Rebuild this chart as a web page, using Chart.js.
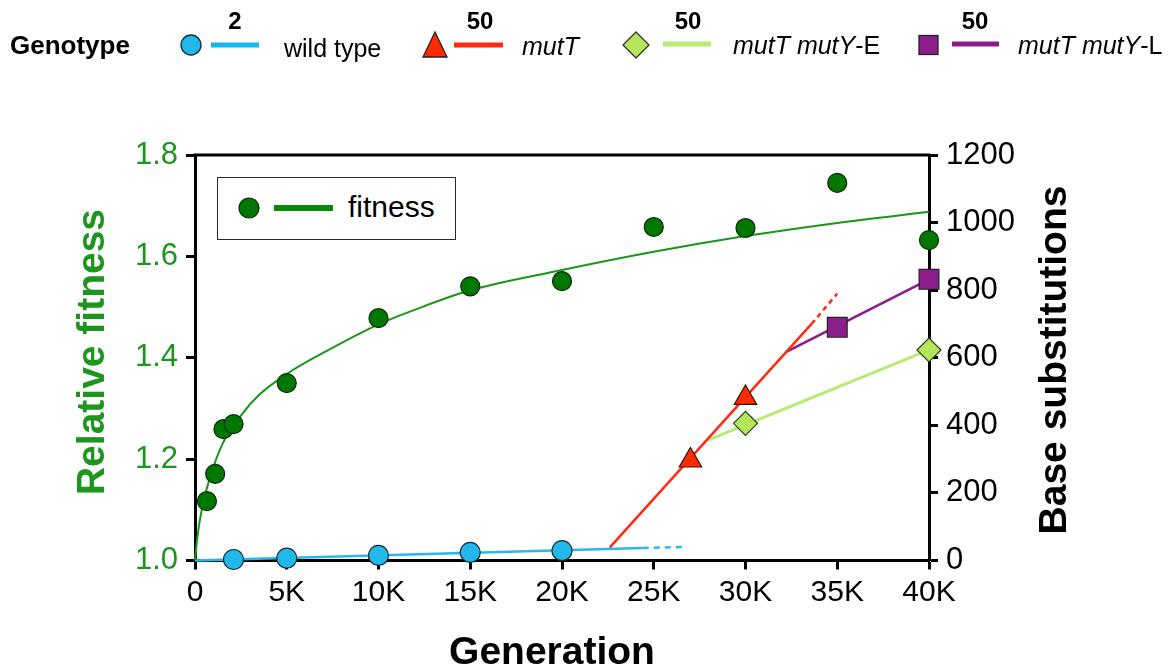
<!DOCTYPE html>
<html>
<head>
<meta charset="utf-8">
<script src="https://cdn.jsdelivr.net/npm/chart.js@4.4.0/dist/chart.umd.min.js"></script>
<style>
  body { margin: 0; background: #fff; }
  #wrap { position: relative; width: 1172px; height: 671px; font-family: "Liberation Sans", Arial, sans-serif; }
  #chart { position: absolute; left: 0; top: 0; }
  .t { position: absolute; white-space: nowrap; color: #000; line-height: 1; }
  .b { font-weight: bold; }
  .i { font-style: italic; }
  .num { font-weight: bold; font-size: 24px; transform: translateX(-50%); }
  .lab { font-size: 25px; }
  #fitbox { position: absolute; left: 217px; top: 177px; width: 237px; height: 61px; border: 1.5px solid #2a2a2a; background: #fff; }
  svg { position: absolute; left: 0; top: 0; overflow: visible; }
</style>
</head>
<body>
<div id="wrap">
  <canvas id="chart" width="1172" height="671"></canvas>

  <!-- genotype legend at the top -->
  <svg width="1172" height="80">
    <circle cx="191" cy="45" r="10" fill="#22b8ea" stroke="#1b2b33" stroke-width="1.3"/>
    <line x1="211" y1="45" x2="259" y2="45" stroke="#13b8ee" stroke-width="5"/>
    <polygon points="435,32 447,57 423,57" fill="#ff2a00" stroke="#222" stroke-width="1.3"/>
    <line x1="454" y1="45" x2="503" y2="45" stroke="#ff2a10" stroke-width="5"/>
    <polygon points="636,32 649,45 636,58 623,45" fill="#b5e65c" stroke="#333" stroke-width="1.3"/>
    <line x1="663" y1="44" x2="711" y2="44" stroke="#b8ec70" stroke-width="5"/>
    <rect x="919" y="35.5" width="19" height="19" fill="#8c1f8c" stroke="#222" stroke-width="1.3"/>
    <line x1="952" y1="44" x2="999" y2="44" stroke="#8b1a8b" stroke-width="5"/>
  </svg>
  <div class="t b" style="left:10px; top:32px; font-size:26px;">Genotype</div>
  <div class="t num" style="left:235px; top:9px;">2</div>
  <div class="t num" style="left:480px; top:9px;">50</div>
  <div class="t num" style="left:688px; top:9px;">50</div>
  <div class="t num" style="left:975px; top:9px;">50</div>
  <div class="t lab" style="left:284px; top:36px;">wild type</div>
  <div class="t lab i" style="left:522px; top:34px;">mutT</div>
  <div class="t lab" style="left:733px; top:33px;"><span class="i">mutT mutY</span>-E</div>
  <div class="t lab" style="left:1018px; top:33px;"><span class="i">mutT mutY</span>-L</div>

  <!-- fitness legend inside the plot -->
  <div id="fitbox"></div>
  <svg width="1172" height="671" style="pointer-events:none;">
    <circle cx="249" cy="208" r="10" fill="#007800" stroke="#0a2a0a" stroke-width="1.2"/>
    <line x1="274" y1="208" x2="333" y2="208" stroke="#0a8a0a" stroke-width="6"/>
  </svg>
  <div class="t" style="left:348px; top:192px; font-size:30px;">fitness</div>
</div>

<script>
// Fitness measurements (left axis)
const fitGen = [650, 1100, 1550, 2100, 5000, 10000, 15000, 20000, 25000, 30000, 35000, 40000];
const fitVal = [1.117, 1.171, 1.259, 1.269, 1.350, 1.478, 1.541, 1.551, 1.658, 1.656, 1.745, 1.632];

// Fitted fitness trajectory
const curveGen = [0, 150, 400, 800, 1500, 2500, 3500, 5000, 7000, 10000, 12000, 15000, 20000, 25000, 30000, 35000, 40000];
const curveVal = [1.0, 1.052, 1.106, 1.162, 1.230, 1.286, 1.327, 1.368, 1.410, 1.466, 1.495, 1.533, 1.573, 1.609, 1.640, 1.666, 1.688];

// Base substitutions (right axis)
const wtGen = [2100, 5000, 10000, 15000, 20000];
const wtVal = [3, 7, 15, 24, 29];
const wtLineGen = [0, 24400];
const wtLineVal = [0, 37];
const wtDashGen = [24400, 26600];
const wtDashVal = [37, 40];

const mutTGen = [27000, 30000];
const mutTVal = [296, 481];
const mutTLineGen = [22600, 33600];
const mutTLineVal = [38, 700];
const mutTDashGen = [33600, 35000];
const mutTDashVal = [700, 790];

const mutYEGen = [30000, 40000];
const mutYEVal = [406, 623];
const mutYELineGen = [27960, 40000];
const mutYELineVal = [356, 623];

const mutYLGen = [35000, 40000];
const mutYLVal = [690, 832];
const mutYLLineGen = [32250, 40000];
const mutYLLineVal = [618, 832];

// Tick labels
const xTicks = [0, 5000, 10000, 15000, 20000, 25000, 30000, 35000, 40000];
const xTickLabels = ['0', '5K', '10K', '15K', '20K', '25K', '30K', '35K', '40K'];

const GREEN_TXT = '#1c961c';
const FONT = '"Liberation Sans", Arial, sans-serif';

function pts(xs, ys) {
  return xs.map((x, i) => ({ x: x, y: ys[i] }));
}

function markers(xs, ys, style, r, fill, stroke) {
  return {
    type: 'scatter', data: pts(xs, ys), yAxisID: style.axis,
    pointStyle: style.shape, pointRadius: r, pointBackgroundColor: fill,
    pointBorderColor: stroke, pointBorderWidth: 1.2, showLine: false, clip: false
  };
}

function line(xs, ys, axis, color, width, dash) {
  return {
    type: 'line', data: pts(xs, ys), yAxisID: axis, borderColor: color,
    borderWidth: width, borderDash: dash || [], pointRadius: 0, fill: false, clip: false
  };
}

// frame top line + the three axis titles
const extras = {
  id: 'extras',
  afterDraw(chart) {
    const { ctx, chartArea: a } = chart;
    ctx.save();
    ctx.strokeStyle = '#000';
    ctx.lineWidth = 3;
    ctx.beginPath();
    ctx.moveTo(a.left - 1.5, a.top);
    ctx.lineTo(a.right + 1.5, a.top);
    ctx.stroke();

    ctx.font = 'bold 39px ' + FONT;
    ctx.textAlign = 'center';
    ctx.textBaseline = 'middle';

    ctx.fillStyle = '#000';
    ctx.fillText('Generation', 552, 653);

    ctx.save();
    ctx.translate(93, 352);
    ctx.rotate(-Math.PI / 2);
    ctx.fillStyle = GREEN_TXT;
    ctx.fillText('Relative fitness', 0, 0);
    ctx.restore();

    ctx.translate(1055, 360);
    ctx.rotate(-Math.PI / 2);
    ctx.fillStyle = '#000';
    ctx.fillText('Base substitutions', 0, 0);
    ctx.restore();
  }
};

const fitnessCurve = line(curveGen, curveVal, 'y', '#1a961a', 2);
fitnessCurve.cubicInterpolationMode = 'monotone';

new Chart(document.getElementById('chart'), {
  data: {
    datasets: [
      markers(fitGen, fitVal, { axis: 'y', shape: 'circle' }, 9.5, '#007800', '#0a2a0a'),
      markers(wtGen, wtVal, { axis: 'y2', shape: 'circle' }, 10, '#22b8ea', '#1b2b33'),
      markers(mutTGen, mutTVal, { axis: 'y2', shape: 'triangle' }, 13, '#ff2a00', '#2a1a10'),
      markers(mutYEGen, mutYEVal, { axis: 'y2', shape: 'rectRot' }, 12, '#b5e65c', '#2a3a1a'),
      markers(mutYLGen, mutYLVal, { axis: 'y2', shape: 'rect' }, 14, '#8c1f8c', '#222'),
      fitnessCurve,
      line(wtLineGen, wtLineVal, 'y2', '#2cb6ee', 2.5),
      line(wtDashGen, wtDashVal, 'y2', '#2cb6ee', 2.5, [6, 5]),
      line(mutTLineGen, mutTLineVal, 'y2', '#ff2a10', 2.5),
      line(mutTDashGen, mutTDashVal, 'y2', '#ff2a10', 2.5, [5, 4]),
      line(mutYELineGen, mutYELineVal, 'y2', '#b8ec70', 3),
      line(mutYLLineGen, mutYLLineVal, 'y2', '#8b1a8b', 2.5)
    ]
  },
  options: {
    responsive: false,
    animation: false,
    devicePixelRatio: 1,
    layout: { padding: { left: 73, top: 155, right: 0, bottom: 0 } },
    plugins: { legend: { display: false }, tooltip: { enabled: false } },
    scales: {
      x: {
        type: 'linear', min: 0, max: 40000,
        afterBuildTicks: s => { s.ticks = xTicks.map(v => ({ value: v })); },
        afterFit: s => { s.height = 110.5; },
        border: { width: 3, color: '#000' },
        grid: { drawOnChartArea: false, drawTicks: true, tickLength: 9, tickWidth: 3, tickColor: '#000' },
        ticks: {
          color: '#000', padding: 5, maxRotation: 0, autoSkip: false,
          font: { family: FONT, size: 30 },
          callback: v => xTickLabels[xTicks.indexOf(v)]
        }
      },
      y: {
        type: 'linear', position: 'left', min: 1.0, max: 1.8,
        afterFit: s => { s.width = 122; },
        border: { width: 3, color: '#000' },
        grid: { drawOnChartArea: false, drawTicks: true, tickLength: 9, tickWidth: 3, tickColor: '#000' },
        ticks: {
          stepSize: 0.2, color: GREEN_TXT, padding: 8,
          font: { family: FONT, size: 31 },
          callback: v => v.toFixed(1)
        }
      },
      y2: {
        type: 'linear', position: 'right', min: 0, max: 1200,
        afterFit: s => { s.width = 243; },
        border: { width: 3, color: '#000' },
        grid: { drawOnChartArea: false, drawTicks: true, tickLength: 9, tickWidth: 3, tickColor: '#000' },
        ticks: {
          stepSize: 200, color: '#000', padding: 8,
          font: { family: FONT, size: 31 },
          callback: v => String(v)
        }
      }
    }
  },
  plugins: [extras]
});
</script>
</body>
</html>
